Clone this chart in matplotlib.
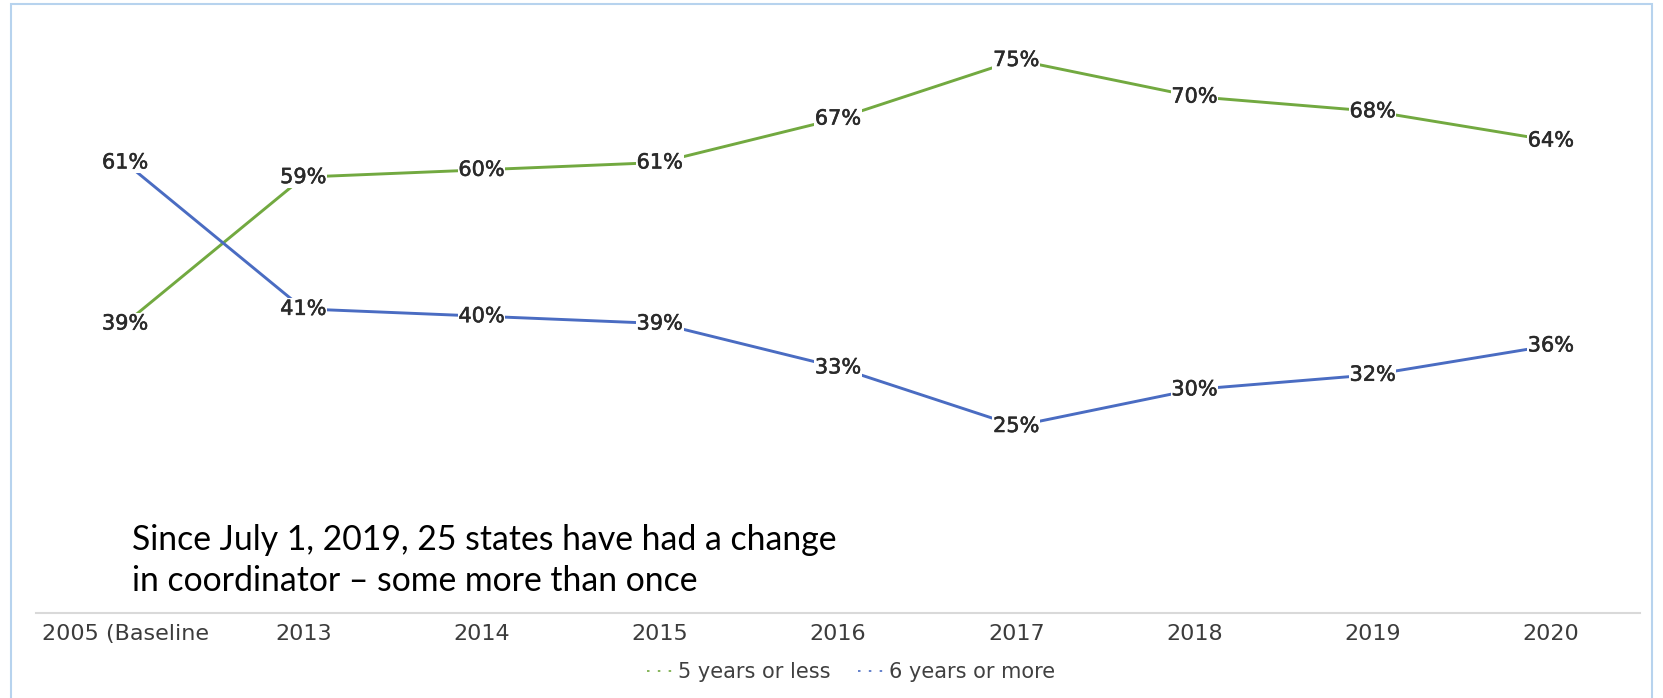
import matplotlib
matplotlib.use("Agg")
import matplotlib.pyplot as plt
import matplotlib.patheffects as pe
from matplotlib.lines import Line2D
from matplotlib.patches import Rectangle

# Share of state coordinators by tenure
years = ["2005 (Baseline", "2013", "2014", "2015", "2016", "2017", "2018", "2019", "2020"]
five_or_less = [39, 59, 60, 61, 67, 75, 70, 68, 64]
six_or_more = [61, 41, 40, 39, 33, 25, 30, 32, 36]
series_names = ["5 years or less", "6 years or more"]
note_lines = ["Since July 1, 2019, 25 states have had a change",
              "in coordinator \u2013 some more than once"]

GREEN = "#72A940"
BLUE = "#4A6CC2"

W, H = 1663, 698
fig = plt.figure(figsize=(W / 100, H / 100), dpi=100)
fig.patch.set_facecolor("white")

# axes rectangle in pixel terms
left_px, right_px = 36, 1640
bottom_px, top_px = 613, 23.4
ax = fig.add_axes([left_px / W, 1 - bottom_px / H,
                   (right_px - left_px) / W, (bottom_px - top_px) / H])

x = list(range(len(years)))
ax.plot(x, five_or_less, color=GREEN, lw=2.1, solid_capstyle="round", zorder=2)
ax.plot(x, six_or_more, color=BLUE, lw=2.1, solid_capstyle="round", zorder=2)

for series in (five_or_less, six_or_more):
    for xi, v in zip(x, series):
        ax.text(xi, v, f"{v}%", ha="center", va="center", fontsize=15,
                family="DejaVu Sans", color="#2a2a2a", zorder=4,
                bbox=dict(facecolor="white", edgecolor="none", pad=0.5),
                path_effects=[pe.withStroke(linewidth=0.4, foreground="#2a2a2a")])

ax.set_xlim(-0.5, len(years) - 0.5)
ax.set_ylim(-0.55, 80)
ax.set_yticks([])
ax.set_xticks(x)
ax.set_xticklabels(years, fontsize=16, family="DejaVu Sans", color="#3c3c3c")
ax.tick_params(axis="x", length=0, pad=8)
for side in ("top", "right", "left"):
    ax.spines[side].set_visible(False)
ax.spines["bottom"].set_color("#d9d9d9")
ax.spines["bottom"].set_linewidth(1.5)
ax.set_facecolor("none")

# note placed over the lower part of the plot, one baseline per line
for baseline_px, line in zip((550, 591), note_lines):
    fig.text(132 / W, 1 - baseline_px / H, line, ha="left", va="baseline",
             fontsize=24.3, family="Lato", color="black")

# legend below the axis labels
handles = [Line2D([0], [0], color=GREEN, lw=1.2, linestyle=(0, (1.5, 5))),
           Line2D([0], [0], color=BLUE, lw=1.2, linestyle=(0, (1.5, 5)))]
fig.legend(handles, series_names, loc="center", bbox_to_anchor=(851 / W, 1 - 672 / H),
           ncol=2, frameon=False, handlelength=1.3, handletextpad=0.2,
           columnspacing=1.3, prop={"family": "DejaVu Sans", "size": 15},
           labelcolor="#404040")

# light frame around the chart area
fig.add_artist(Rectangle((11 / W, -0.02), (1652 - 11) / W, 1.02 - 4 / H,
                         transform=fig.transFigure, fill=False,
                         edgecolor="#b7d3ee", lw=1.5))

fig.savefig("out.png", dpi=100)
